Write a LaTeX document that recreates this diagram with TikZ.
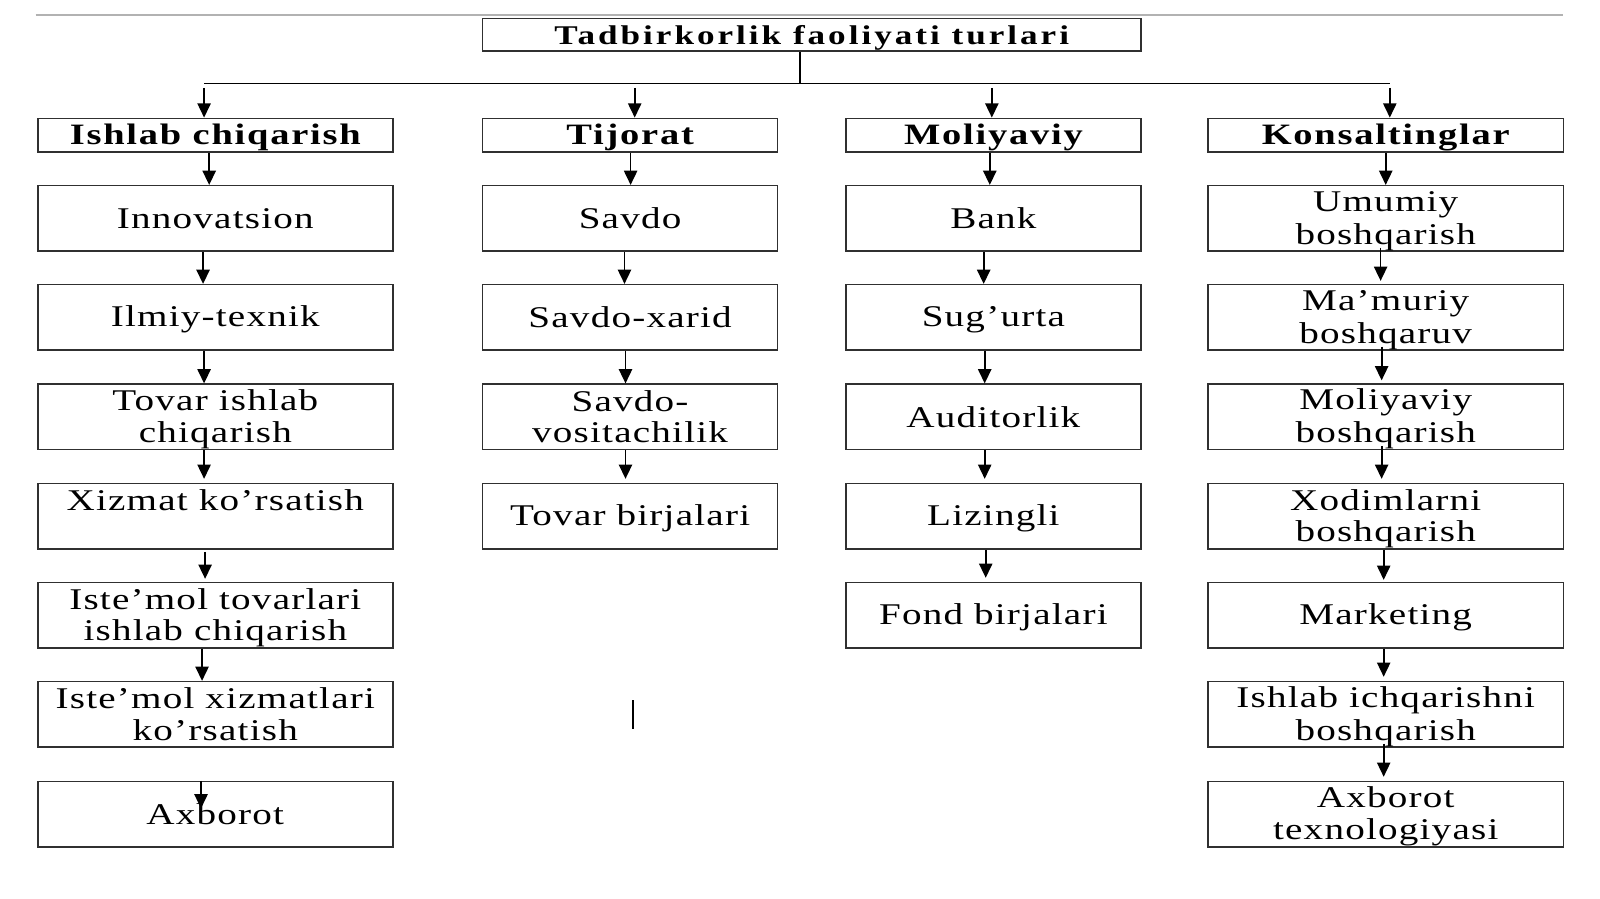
\documentclass[tikz,border=0pt]{standalone}
\usepackage{fontspec}
\setmainfont{Liberation Serif}
\newfontfamily\bodyfont[FakeStretch=1.3,LetterSpace=4]{Liberation Serif}
\newfontfamily\headfont[FakeStretch=1.3,LetterSpace=6]{Liberation Serif}
\newfontfamily\titlefont[FakeStretch=1.3,LetterSpace=11]{Liberation Serif}
\newcommand\mystrut{\rule[-5pt]{0pt}{30pt}}
\usetikzlibrary{arrows.meta}
\definecolor{boxline}{HTML}{303030}
\tikzset{
  box/.style={draw=boxline, line width=1.5pt, inner sep=0pt, align=center,
    font=\bodyfont\fontsize{29.5}{31}\selectfont, text=black},
  headbox/.style={box, font=\headfont\bfseries\fontsize{29}{31}\selectfont},
  wide/.style={minimum width=348pt},
  narrow/.style={minimum width=289pt},
  tall/.style={minimum height=64pt},
  arr/.style={line width=1.7pt, draw=black, -{Triangle[length=14pt,width=13pt]}},
  plain/.style={line width=1.5pt, draw=black}
}
\begin{document}
\begin{tikzpicture}[x=1pt,y=-1pt]
\useasboundingbox (0,0) rectangle (1568,881);
\fill[white] (0,0) rectangle (1568,881);
% top rule
\draw[line width=2.2pt, draw=black!30] (35,15) -- (1532,15);
% title
\node[box, font=\titlefont\bfseries\fontsize{26.5}{28}\selectfont, minimum width=645pt, minimum height=32pt] (title) at (795.5,34) {\mystrut Tadbirkorlik faoliyati turlari};
% headers
\node[headbox, wide, minimum height=33pt] (h1) at (211,132.5) {\mystrut Ishlab chiqarish};
\node[headbox, narrow, minimum height=33pt] (h2) at (617.5,132.5) {\mystrut Tijorat};
\node[headbox, narrow, minimum height=33pt] (h3) at (973.5,132.5) {\mystrut Moliyaviy};
\node[headbox, wide, minimum height=33pt] (h4) at (1358,132.5) {\mystrut Konsaltinglar};
% column 1
\node[box, wide, tall] (a1) at (211,214) {\mystrut Innovatsion};
\node[box, wide, tall] (a2) at (211,311) {\mystrut Ilmiy-texnik};
\node[box, wide, tall] (a3) at (211,408.5) {\mystrut Tovar ishlab\\\mystrut chiqarish};
\node[box, wide, tall] (a4) at (211,506) {\mystrut Xizmat ko’rsatish\\\mystrut};
\node[box, wide, tall] (a5) at (211,603) {\mystrut Iste’mol tovarlari\\\mystrut ishlab chiqarish};
\node[box, wide, tall] (a6) at (211,700) {\mystrut Iste’mol xizmatlari\\\mystrut ko’rsatish};
\node[box, wide, tall] (a7) at (211,798) {\mystrut Axborot};
% column 2
\node[box, narrow, tall] (b1) at (617.5,214) {\mystrut Savdo};
\node[box, narrow, tall] (b2) at (617.5,311) {\mystrut Savdo-xarid};
\node[box, narrow, tall] (b3) at (617.5,408.5) {\mystrut Savdo-\\\mystrut vositachilik};
\node[box, narrow, tall] (b4) at (617.5,506) {\mystrut Tovar birjalari};
% column 3
\node[box, narrow, tall] (c1) at (973.5,214) {\mystrut Bank};
\node[box, narrow, tall] (c2) at (973.5,311) {\mystrut Sug’urta};
\node[box, narrow, tall] (c3) at (973.5,408.5) {\mystrut Auditorlik};
\node[box, narrow, tall] (c4) at (973.5,506) {\mystrut Lizingli};
\node[box, narrow, tall] (c5) at (973.5,603) {\mystrut Fond birjalari};
% column 4
\node[box, wide, tall] (d1) at (1358,214) {\mystrut Umumiy\\\mystrut boshqarish};
\node[box, wide, tall] (d2) at (1358,311) {\mystrut Ma’muriy\\\mystrut boshqaruv};
\node[box, wide, tall] (d3) at (1358,408.5) {\mystrut Moliyaviy\\\mystrut boshqarish};
\node[box, wide, tall] (d4) at (1358,506) {\mystrut Xodimlarni\\\mystrut boshqarish};
\node[box, wide, tall] (d5) at (1358,603) {\mystrut Marketing};
\node[box, wide, tall] (d6) at (1358,700) {\mystrut Ishlab ichqarishni\\\mystrut boshqarish};
\node[box, wide, tall] (d7) at (1358,798) {\mystrut Axborot\\\mystrut texnologiyasi};
% trunk
\coordinate (j) at (784,82);
\coordinate (t1) at (200,82);
\coordinate (t2) at (622,82);
\coordinate (t3) at (972,82);
\coordinate (t4) at (1362,82);
\draw[plain] (title.south -| j) -- (j);
\draw[plain] (t1) -- (t4);
\draw[arr] ([yshift=-4pt]t1) -- (t1 |- h1.north);
\draw[arr] ([yshift=-4pt]t2) -- (t2 |- h2.north);
\draw[arr] ([yshift=-4pt]t3) -- (t3 |- h3.north);
\draw[arr] ([yshift=-4pt]t4) -- (t4 |- h4.north);
% column 1 arrows
\draw[arr] ([xshift=-6pt]h1.south) -- ([xshift=-6pt]h1.south |- a1.north);
\draw[arr] ([xshift=-12pt]a1.south) -- ([xshift=-12pt]a1.south |- a2.north);
\draw[arr] ([xshift=-11pt]a2.south) -- ([xshift=-11pt]a2.south |- a3.north);
\draw[arr] ([xshift=-11pt]a3.south) -- ([xshift=-11pt,yshift=4pt]a3.south |- a4.north);
\draw[arr] ([xshift=-10pt,yshift=-2pt]a4.south) -- ([xshift=-10pt,yshift=3pt]a4.south |- a5.north);
\draw[arr] ([xshift=-13pt]a5.south) -- ([xshift=-13pt]a5.south |- a6.north);
\draw[arr] ([xshift=-14pt]a7.north) -- ([xshift=-14pt,yshift=-27pt]a7.north);
% column 2 arrows
\draw[arr] ([xshift=0.5pt]h2.south) -- ([xshift=0.5pt]h2.south |- b1.north);
\draw[arr] ([xshift=-5.5pt]b1.south) -- ([xshift=-5.5pt]b1.south |- b2.north);
\draw[arr] ([xshift=-4.5pt]b2.south) -- ([xshift=-4.5pt]b2.south |- b3.north);
\draw[arr] ([xshift=-4.5pt]b3.south) -- ([xshift=-4.5pt,yshift=4pt]b3.south |- b4.north);
% column 3 arrows
\draw[arr] ([xshift=-3.5pt]h3.south) -- ([xshift=-3.5pt]h3.south |- c1.north);
\draw[arr] ([xshift=-9.5pt]c1.south) -- ([xshift=-9.5pt]c1.south |- c2.north);
\draw[arr] ([xshift=-8.5pt]c2.south) -- ([xshift=-8.5pt]c2.south |- c3.north);
\draw[arr] ([xshift=-8.5pt]c3.south) -- ([xshift=-8.5pt,yshift=4pt]c3.south |- c4.north);
\draw[arr] ([xshift=-7.5pt]c4.south) -- ([xshift=-7.5pt,yshift=4pt]c4.south |- c5.north);
% column 4 arrows
\draw[arr] (h4.south) -- (h4.south |- d1.north);
\draw[arr] ([xshift=-5pt,yshift=4pt]d1.south) -- ([xshift=-5pt,yshift=3pt]d1.south |- d2.north);
\draw[arr] ([xshift=-4pt,yshift=4pt]d2.south) -- ([xshift=-4pt,yshift=3pt]d2.south |- d3.north);
\draw[arr] ([xshift=-4pt,yshift=4pt]d3.south) -- ([xshift=-4pt,yshift=4pt]d3.south |- d4.north);
\draw[arr] ([xshift=-2pt]d4.south) -- ([xshift=-2pt,yshift=2pt]d4.south |- d5.north);
\draw[arr] ([xshift=-2pt]d5.south) -- ([xshift=-2pt,yshift=4pt]d5.south |- d6.north);
\draw[arr] ([xshift=-2pt,yshift=4pt]d6.south) -- ([xshift=-2pt,yshift=4pt]d6.south |- d7.north);
% small stray mark
\draw[line width=2pt] (620,686) -- (620,714);
\end{tikzpicture}
\end{document}
